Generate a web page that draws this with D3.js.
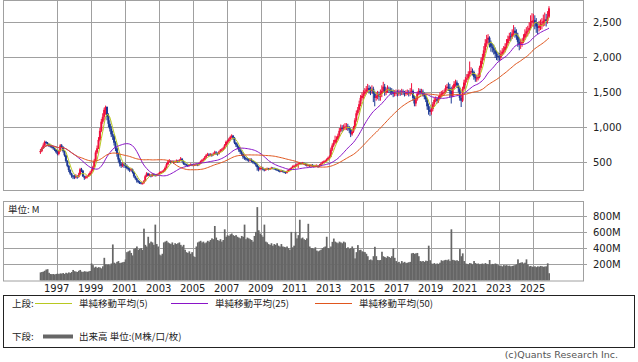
<!DOCTYPE html>
<html>
<head>
<meta charset="utf-8">
<script src="https://cdn.jsdelivr.net/npm/d3@7"></script>
<style>
  body { margin: 0; background: #fff; }
  text { font-family: "DejaVu Sans", Verdana, sans-serif; }
  .jp { font-family: "Noto Sans CJK JP", sans-serif; }
</style>
</head>
<body>
<svg width="638" height="362"></svg>
<script>
// monthly candles, Jan 1996 .. Dec 2025 (one row per year)
var opens = [
  650,660,700,740,790,780,760,740,730,720,700,680,
  650,620,660,740,720,660,600,520,450,390,340,310,
  295,290,300,290,320,400,380,300,280,290,300,320,
  350,380,430,520,640,700,820,950,1080,1150,1250,1290,
  1150,1050,980,900,880,780,700,620,540,480,450,470,
  460,450,420,400,390,400,360,300,270,240,220,210,
  200,200,230,300,340,310,320,300,330,320,310,320,
  330,350,360,370,380,420,470,510,520,500,510,500,
  510,520,510,530,550,520,480,470,460,450,460,470,
  460,460,465,470,460,480,510,530,540,570,600,610,
  600,610,600,620,640,630,620,650,670,680,700,740,
  790,800,830,860,880,850,780,750,720,680,650,620,
  580,560,550,540,530,540,520,500,490,470,430,400,
  420,420,400,390,400,410,400,410,420,415,410,400,
  390,380,370,380,370,360,350,370,390,400,420,440,
  450,450,470,480,490,480,490,480,470,460,460,450,
  460,450,440,450,450,440,460,480,500,510,520,540,
  560,580,680,740,780,820,830,880,950,990,980,1000,
  1010,1010,990,970,900,940,990,1100,1200,1250,1330,1420,
  1450,1480,1510,1540,1560,1530,1520,1550,1480,1420,1450,1470,
  1440,1480,1520,1580,1500,1530,1550,1540,1520,1510,1480,1490,
  1500,1480,1500,1490,1510,1500,1480,1490,1500,1480,1490,1520,
  1420,1340,1400,1480,1520,1500,1510,1470,1440,1400,1300,1250,
  1220,1260,1330,1390,1400,1380,1420,1460,1480,1490,1500,1560,
  1580,1560,1520,1450,1560,1620,1640,1600,1560,1420,1380,1550,
  1640,1680,1700,1760,1800,1800,1790,1720,1700,1700,1720,1850,
  1950,2000,2100,2200,2250,2280,2200,2150,2130,2100,2050,2020,
  2010,2000,2050,2080,2100,2150,2200,2260,2300,2290,2340,2380,
  2350,2300,2220,2180,2200,2220,2280,2340,2370,2380,2420,2500,
  2520,2530,2500,2440,2420,2450,2470,2480,2520,2540,2520,2580
];
var closes = [
  660,700,740,790,780,760,740,730,720,700,680,650,
  620,660,740,720,660,600,520,450,390,340,310,295,
  290,300,290,320,400,380,300,280,290,300,320,350,
  380,430,520,640,700,820,950,1080,1150,1250,1290,1150,
  1050,980,900,880,780,700,620,540,480,450,470,460,
  450,420,400,390,400,360,300,270,240,220,210,200,
  200,230,300,340,310,320,300,330,320,310,320,330,
  350,360,370,380,420,470,510,520,500,510,500,510,
  520,510,530,550,520,480,470,460,450,460,470,460,
  460,465,470,460,480,510,530,540,570,600,610,600,
  610,600,620,640,630,620,650,670,680,700,740,790,
  800,830,860,880,850,780,750,720,680,650,620,580,
  560,550,540,530,540,520,500,490,470,430,400,420,
  420,400,390,400,410,400,410,420,415,410,400,390,
  380,370,380,370,360,350,370,390,400,420,440,450,
  450,470,480,490,480,490,480,470,460,460,450,460,
  450,440,450,450,440,460,480,500,510,520,540,560,
  580,680,740,780,820,830,880,950,990,980,1000,1010,
  1010,990,970,900,940,990,1100,1200,1250,1330,1420,1450,
  1480,1510,1540,1560,1530,1520,1550,1480,1420,1450,1470,1440,
  1480,1520,1580,1500,1530,1550,1540,1520,1510,1480,1490,1500,
  1480,1500,1490,1510,1500,1480,1490,1500,1480,1490,1520,1420,
  1340,1400,1480,1520,1500,1510,1470,1440,1400,1300,1250,1220,
  1260,1330,1390,1400,1380,1420,1460,1480,1490,1500,1560,1580,
  1560,1520,1450,1560,1620,1640,1600,1560,1420,1380,1550,1640,
  1680,1700,1760,1800,1800,1790,1720,1700,1700,1720,1850,1950,
  2000,2100,2200,2250,2280,2200,2150,2130,2100,2050,2020,2010,
  2000,2050,2080,2100,2150,2200,2260,2300,2290,2340,2380,2350,
  2300,2220,2180,2200,2220,2280,2340,2370,2380,2420,2500,2520,
  2530,2500,2440,2420,2450,2470,2480,2520,2540,2520,2580,2700
];
var highs = [
  690,720,770,810,805,790,770,755,745,730,710,690,
  670,680,760,760,730,670,610,530,460,400,350,320,
  320,330,315,350,420,420,390,310,310,320,340,370,
  400,450,550,670,740,860,990,1120,1200,1280,1310,1300,
  1200,1100,1020,950,900,800,720,640,560,500,500,490,
  490,470,440,420,420,410,370,310,280,250,235,220,
  215,245,320,360,350,340,330,345,340,330,335,345,
  365,375,385,400,440,490,530,545,530,530,525,530,
  540,535,545,575,560,525,490,480,470,475,485,480,
  475,480,485,480,495,525,545,560,590,620,635,630,
  630,625,640,665,660,640,665,690,700,720,760,810,
  820,850,880,900,890,860,790,770,735,700,670,635,
  600,580,570,560,560,555,530,515,505,480,445,435,
  440,435,410,415,425,420,420,435,430,425,420,410,
  405,395,395,390,380,370,380,400,415,430,455,465,
  470,485,500,505,500,505,500,490,480,475,470,475,
  475,465,465,470,460,475,495,515,525,535,555,580,
  600,710,770,820,880,870,910,990,1040,1030,1040,1060,
  1060,1050,1020,990,970,1020,1130,1240,1290,1380,1460,1500,
  1530,1560,1590,1620,1600,1580,1600,1580,1520,1500,1520,1510,
  1540,1600,1650,1620,1570,1600,1580,1570,1560,1540,1530,1540,
  1530,1540,1530,1550,1540,1520,1530,1540,1530,1560,1630,1540,
  1450,1430,1510,1560,1550,1550,1540,1500,1470,1420,1340,1300,
  1290,1360,1420,1440,1430,1450,1500,1520,1530,1540,1600,1620,
  1640,1620,1580,1600,1660,1680,1670,1630,1580,1460,1580,1680,
  1720,1760,1800,1940,1860,1840,1810,1760,1750,1770,1880,1990,
  2050,2160,2260,2320,2330,2300,2240,2200,2180,2140,2090,2070,
  2060,2100,2130,2160,2200,2260,2310,2350,2360,2400,2460,2430,
  2400,2350,2280,2260,2270,2330,2400,2430,2450,2500,2600,2630,
  2620,2600,2560,2500,2520,2540,2560,2610,2640,2620,2660,2730
];
var lows = [
  620,645,690,730,755,740,720,710,700,680,660,630,
  600,600,650,700,640,580,500,430,360,320,280,260,
  260,270,265,280,310,360,290,250,260,270,290,310,
  330,370,420,510,620,690,800,930,1050,1100,1180,1100,
  1000,940,860,820,740,660,580,500,440,420,430,420,
  420,400,380,360,370,340,280,250,210,200,190,185,
  185,195,225,290,300,295,285,295,305,295,300,310,
  320,340,350,355,370,410,460,495,480,490,480,490,
  495,490,500,520,500,465,455,445,435,440,450,445,
  445,450,455,445,455,475,500,520,535,560,590,585,
  585,580,595,610,605,595,610,640,655,670,690,730,
  765,780,810,840,820,760,720,690,650,620,590,550,
  535,525,515,505,510,500,480,470,440,380,370,385,
  400,385,370,380,390,385,390,400,400,395,385,375,
  365,355,360,355,345,335,340,360,380,395,415,430,
  430,440,420,470,465,470,465,450,440,440,435,440,
  435,425,430,435,420,430,455,470,490,500,510,530,
  540,570,660,720,760,770,810,860,930,930,950,960,
  960,950,920,860,880,920,970,1080,1170,1220,1300,1380,
  1400,1440,1470,1500,1480,1460,1480,1360,1300,1380,1400,1380,
  1380,1430,1490,1450,1460,1490,1490,1470,1460,1430,1440,1450,
  1440,1450,1450,1460,1460,1440,1450,1460,1440,1450,1470,1380,
  1300,1300,1380,1460,1460,1470,1440,1400,1360,1250,1180,1160,
  1180,1230,1300,1360,1340,1350,1400,1430,1450,1460,1480,1530,
  1520,1420,1340,1430,1540,1580,1560,1500,1380,1290,1360,1530,
  1600,1640,1680,1720,1740,1740,1680,1650,1650,1670,1700,1820,
  1900,1960,2060,2150,2180,2140,2080,2070,2040,1990,1960,1950,
  1950,1960,2020,2040,2070,2120,2170,2230,2230,2260,2300,2280,
  2250,2150,2100,2120,2150,2200,2250,2290,2300,2340,2390,2440,
  2440,2400,2350,2330,2370,2390,2400,2440,2450,2440,2480,2560
];
// monthly volume, millions of shares
var volumes = [
  100,105,110,120,135,140,95,80,78,80,75,80,
  85,80,88,85,92,80,95,88,100,92,105,130,
  115,110,105,120,130,110,105,115,110,108,112,118,
  210,190,160,170,155,165,160,150,175,280,200,195,
  200,190,210,445,220,210,230,240,215,220,225,230,
  260,350,360,370,340,310,390,400,420,380,390,400,
  380,640,440,420,540,460,480,470,440,690,450,420,
  320,310,330,470,480,490,470,460,450,470,440,460,
  450,460,470,440,420,440,380,350,340,360,330,350,
  300,290,420,470,480,490,470,480,460,470,490,480,
  500,520,510,673,530,500,490,510,480,500,632,540,
  560,550,570,580,560,550,560,540,530,520,550,540,
  690,510,530,520,510,500,480,550,600,906,620,580,
  560,540,690,480,470,450,440,460,430,450,440,460,
  430,420,450,420,415,410,420,400,380,600,410,430,
  600,520,560,750,520,530,510,500,520,700,420,400,
  400,390,410,370,360,370,380,400,410,420,540,400,
  400,420,477,518,480,470,460,480,470,460,480,470,
  400,410,390,400,420,395,273,350,437,375,380,360,
  355,350,330,300,253,260,250,300,416,300,253,250,
  253,355,300,290,280,300,290,280,300,396,280,240,
  220,230,210,240,220,230,215,220,225,230,335,340,
  330,335,340,300,240,235,240,230,245,240,430,250,
  210,205,215,200,210,205,220,250,240,250,255,250,
  260,240,632,255,250,245,250,240,388,300,335,240,
  210,205,200,215,210,200,240,215,205,210,200,205,
  210,200,215,205,200,253,195,205,200,210,205,190,
  180,185,175,190,185,190,180,185,175,180,185,190,
  200,261,215,220,225,210,220,261,200,175,180,170,
  170,175,165,175,170,180,175,170,172,175,212,90
];
var firstYear = 1996;
var yearTicks = [1997,1999,2001,2003,2005,2007,2009,2011,2013,2015,2017,2019,2021,2023,2025];
var priceTicks = [500,1000,1500,2000,2500];
var volumeTicks = [200,400,600,800];
var maPeriods = [5, 25, 50];
var maColors = ["#b8c820", "#8a14c8", "#e0561e"];
var maLabels = ["単純移動平均(5)", "単純移動平均(25)", "単純移動平均(50)"];

var svg = d3.select("svg");
var gridColor = "#a0a0a0";

// panel boxes
var top1 = 0, bot1 = 190, top2 = 201, bot2 = 280.5, left = 3, right = 583;

var x = d3.scaleLinear().domain([1997, 2025]).range([56.7, 532.7]);
var yPrice = d3.scaleLinear().domain([0, 2500]).range([197.3, 22.3]);
var yVol = d3.scaleLinear().domain([0, 800]).range([bot2, 215.7]);

function monthX(i) { return x(firstYear + (i + 0.5) / 12); }

svg.append("clipPath").attr("id", "clip1")
  .append("rect").attr("x", left).attr("y", top1).attr("width", right - left).attr("height", bot1 - top1);

// grid, upper panel
var grid = svg.append("g").attr("stroke", gridColor).attr("stroke-width", 1);
grid.selectAll(".v1").data(yearTicks).enter().append("line")
  .attr("x1", function(d) { return Math.round(x(d)) + 0.5; })
  .attr("x2", function(d) { return Math.round(x(d)) + 0.5; })
  .attr("y1", top1).attr("y2", bot1);
grid.selectAll(".h1").data(priceTicks).enter().append("line")
  .attr("x1", left).attr("x2", right + 4)
  .attr("y1", function(d) { return Math.round(yPrice(d)) + 0.5; })
  .attr("y2", function(d) { return Math.round(yPrice(d)) + 0.5; });
// grid, volume panel
grid.selectAll(".v2").data(yearTicks).enter().append("line")
  .attr("x1", function(d) { return Math.round(x(d)) + 0.5; })
  .attr("x2", function(d) { return Math.round(x(d)) + 0.5; })
  .attr("y1", top2).attr("y2", bot2);
grid.selectAll(".h2").data(volumeTicks).enter().append("line")
  .attr("x1", left).attr("x2", right + 4)
  .attr("y1", function(d) { return Math.round(yVol(d)) + 0.5; })
  .attr("y2", function(d) { return Math.round(yVol(d)) + 0.5; });

// volume bars
var bw = (x(1997) - x(1996)) / 12;
svg.append("g").selectAll("rect").data(volumes).enter().append("rect")
  .attr("x", function(d, i) { return monthX(i) - bw / 2; })
  .attr("width", bw + 0.3)
  .attr("y", function(d) { return yVol(d); })
  .attr("height", function(d) { return bot2 - yVol(d); })
  .attr("fill", "#666666");

// candles
var candles = svg.append("g").attr("clip-path", "url(#clip1)");
var idx = d3.range(closes.length);
function candleColor(i) { return closes[i] >= opens[i] ? "#f0103c" : "#1c3894"; }
candles.selectAll("line").data(idx).enter().append("line")
  .attr("x1", function(i) { return monthX(i); })
  .attr("x2", function(i) { return monthX(i); })
  .attr("y1", function(i) { return yPrice(highs[i]); })
  .attr("y2", function(i) { return yPrice(lows[i]); })
  .attr("stroke", candleColor).attr("stroke-width", 1);
candles.selectAll("rect").data(idx).enter().append("rect")
  .attr("x", function(i) { return monthX(i) - 1; })
  .attr("width", 2)
  .attr("y", function(i) { return yPrice(Math.max(opens[i], closes[i])); })
  .attr("height", function(i) { return Math.max(1, Math.abs(yPrice(opens[i]) - yPrice(closes[i]))); })
  .attr("fill", candleColor);

// simple moving averages of the closes
var maLine = d3.line().x(function(d) { return monthX(d.i); }).y(function(d) { return yPrice(d.v); });
maPeriods.forEach(function(p, k) {
  var pts = closes.map(function(c, i) {
    return { i: i, v: d3.mean(closes.slice(Math.max(0, i - p + 1), i + 1)) };
  });
  svg.append("path").datum(pts)
    .attr("clip-path", "url(#clip1)")
    .attr("d", maLine)
    .attr("fill", "none")
    .attr("stroke", maColors[k])
    .attr("stroke-width", 1);
});

// panel borders
svg.append("rect").attr("x", left + 0.5).attr("y", top1 + 0.5)
  .attr("width", right - left).attr("height", bot1 - top1)
  .attr("fill", "none").attr("stroke", gridColor);
svg.append("rect").attr("x", left + 0.5).attr("y", top2 + 0.5)
  .attr("width", right - left).attr("height", bot2 - top2)
  .attr("fill", "none").attr("stroke", gridColor);

// axis labels
svg.append("g").selectAll("text").data(priceTicks).enter().append("text")
  .attr("x", 593).attr("y", function(d) { return yPrice(d) + 4; })
  .attr("font-size", 10).attr("fill", "#222")
  .text(function(d) { return d3.format(",")(d); });
svg.append("g").selectAll("text").data(volumeTicks).enter().append("text")
  .attr("x", 593).attr("y", function(d) { return yVol(d) + 4; })
  .attr("font-size", 10).attr("fill", "#222")
  .text(function(d) { return d + "M"; });
svg.append("g").selectAll("text").data(yearTicks).enter().append("text")
  .attr("x", function(d) { return x(d); }).attr("y", 292)
  .attr("text-anchor", "middle")
  .attr("font-size", 10).attr("fill", "#222")
  .text(function(d) { return d; });

svg.append("text").attr("class", "jp").attr("x", 8).attr("y", 213)
  .attr("font-size", 9.5).attr("fill", "#222").text("単位: M");

// legend box
svg.append("rect").attr("x", 3.5).attr("y", 295.5).attr("width", 631).attr("height", 52)
  .attr("fill", "none").attr("stroke", "#222");
svg.append("text").attr("class", "jp").attr("x", 12).attr("y", 307)
  .attr("font-size", 9.5).attr("fill", "#222").text("上段:");
var legX = [35, 171, 315];
maLabels.forEach(function(t, k) {
  svg.append("line").attr("x1", legX[k]).attr("x2", legX[k] + 37)
    .attr("y1", 303.5).attr("y2", 303.5)
    .attr("stroke", maColors[k]).attr("stroke-width", 1);
  svg.append("text").attr("class", "jp").attr("x", legX[k] + 44).attr("y", 307)
    .attr("font-size", 9.5).attr("fill", "#222").text(t);
});
svg.append("text").attr("class", "jp").attr("x", 12).attr("y", 340)
  .attr("font-size", 9.5).attr("fill", "#222").text("下段:");
svg.append("line").attr("x1", 43).attr("x2", 73).attr("y1", 336.5).attr("y2", 336.5)
  .attr("stroke", "#666").attr("stroke-width", 4);
svg.append("text").attr("class", "jp").attr("x", 79).attr("y", 340)
  .attr("font-size", 9.5).attr("fill", "#222").text("出来高 単位:(M株/口/枚)");

svg.append("text").attr("x", 618).attr("y", 358).attr("text-anchor", "end")
  .attr("font-size", 9.5).attr("fill", "#555").text("(c)Quants Research Inc.");
</script>
</body>
</html>
